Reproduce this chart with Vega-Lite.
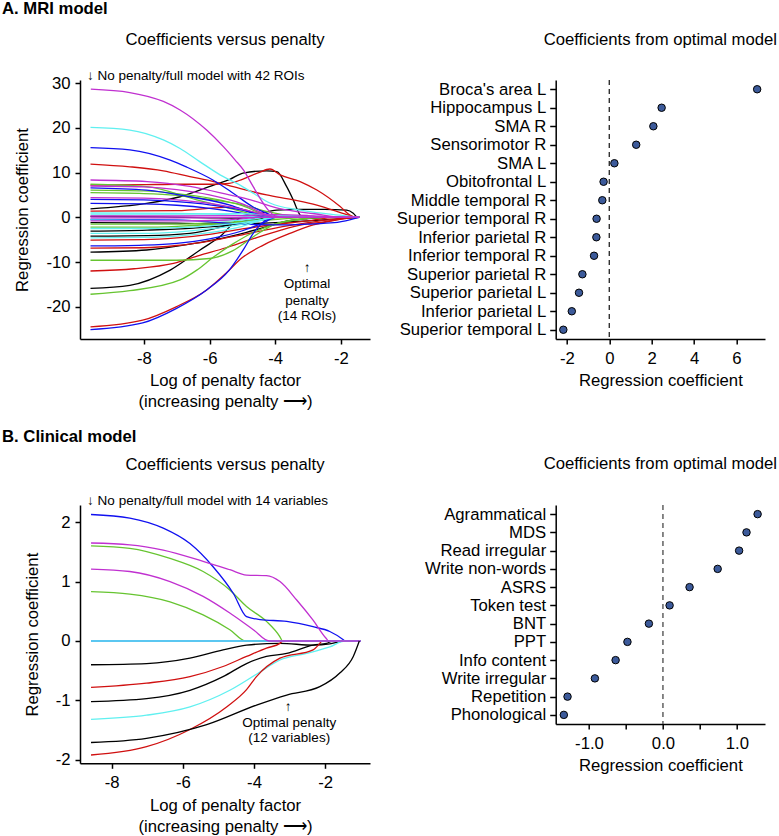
{
  "$schema": "https://vega.github.io/schema/vega-lite/v6.json",
  "autosize": {"type": "none"},
  "padding": {"left": 80, "top": 80, "right": 699, "bottom": 756},
  "background": "white",
  "bounds": "flush",
  "spacing": 425,
  "config": {
    "font": "Liberation Sans",
    "locale": {"number": {"decimal": ".", "thousands": ",", "grouping": [3], "currency": ["$", ""], "minus": "-"}},
    "view": {"stroke": null},
    "axis": {"grid": false, "domainColor": "#000", "domainWidth": 1.5, "tickColor": "#000", "tickWidth": 1.5, "tickSize": 5, "labelFontSize": 16.7, "labelColor": "#000", "titleFontSize": 16.7, "titleFontWeight": "normal", "titleColor": "#000", "labelFont": "Liberation Sans", "titleFont": "Liberation Sans", "labelPadding": 6, "titlePadding": 6, "titleLineHeight": 21},
    "axisY": {"labelPadding": 5, "titlePadding": 14},
    "title": {"fontSize": 16.7, "fontWeight": "normal", "color": "#000", "font": "Liberation Sans"}
  },
  "datasets": {
    "mri": [
      {"id":1,"x":-9.63,"y":1.9},{"id":1,"x":-7.92,"y":3.1},{"id":1,"x":-6.9,"y":4.6},{"id":1,"x":-5.88,"y":7.2},{"id":1,"x":-5.38,"y":8.5},{"id":1,"x":-4.98,"y":9.9},{"id":1,"x":-4.26,"y":10.4},{"id":1,"x":-3.95,"y":10.2},{"id":1,"x":-3.65,"y":6.85},{"id":1,"x":-3.45,"y":3.9},{"id":1,"x":-3.24,"y":0.5},{"id":1,"x":-3.15,"y":0},{"id":1,"x":-1.44,"y":0},
      {"id":7,"x":-9.63,"y":0.2},{"id":7,"x":-7.5,"y":0.1},{"id":7,"x":-6,"y":-0.1},{"id":7,"x":-5.07,"y":-0.2},{"id":7,"x":-4.5,"y":0.8},{"id":7,"x":-3.95,"y":1.6},{"id":7,"x":-3.24,"y":1.8},{"id":7,"x":-2.5,"y":1.8},{"id":7,"x":-1.82,"y":1.6},{"id":7,"x":-1.62,"y":0.9},{"id":7,"x":-1.51,"y":0.1},{"id":7,"x":-1.44,"y":0},
      {"id":13,"x":-9.63,"y":-1.2},{"id":13,"x":-7,"y":-1.3},{"id":13,"x":-5.5,"y":-1.5},{"id":13,"x":-4,"y":-1.2},{"id":13,"x":-3,"y":-0.8},{"id":13,"x":-2,"y":-0.3},{"id":13,"x":-1.44,"y":0},
      {"id":19,"x":-9.63,"y":-3.1},{"id":19,"x":-7.9,"y":-2.85},{"id":19,"x":-6.5,"y":-2.4},{"id":19,"x":-5.4,"y":-1.7},{"id":19,"x":-4.6,"y":-0.6},{"id":19,"x":-4.2,"y":0},{"id":19,"x":-1.44,"y":0},
      {"id":25,"x":-9.63,"y":-4.2},{"id":25,"x":-7.9,"y":-4.1},{"id":25,"x":-6.6,"y":-3.6},{"id":25,"x":-5.4,"y":-1.7},{"id":25,"x":-4.7,"y":-0.4},{"id":25,"x":-4.4,"y":0},{"id":25,"x":-1.44,"y":0},
      {"id":31,"x":-9.63,"y":-7.8},{"id":31,"x":-7.92,"y":-7.3},{"id":31,"x":-6.6,"y":-6.0},{"id":31,"x":-5.4,"y":-4.3},{"id":31,"x":-4.9,"y":-3.4},{"id":31,"x":-4.26,"y":-2.1},{"id":31,"x":-3.75,"y":-1.0},{"id":31,"x":-3.0,"y":-0.3},{"id":31,"x":-2.2,"y":0},{"id":31,"x":-1.44,"y":0},
      {"id":37,"x":-9.63,"y":-15.9},{"id":37,"x":-8.43,"y":-15.2},{"id":37,"x":-7.2,"y":-11.8},{"id":37,"x":-6.29,"y":-7.3},{"id":37,"x":-5.68,"y":-4.3},{"id":37,"x":-5.07,"y":-0.2},{"id":37,"x":-4.9,"y":0},{"id":37,"x":-1.44,"y":0},
      {"id":2,"x":-9.63,"y":11.9},{"id":2,"x":-8.43,"y":11.3},{"id":2,"x":-7.41,"y":10.4},{"id":2,"x":-6.6,"y":9.1},{"id":2,"x":-5.88,"y":8.0},{"id":2,"x":-5.28,"y":6.85},{"id":2,"x":-4.26,"y":5.0},{"id":2,"x":-3.45,"y":3.9},{"id":2,"x":-2.73,"y":2.75},{"id":2,"x":-1.82,"y":0.6},{"id":2,"x":-1.6,"y":0.1},{"id":2,"x":-1.44,"y":0},
      {"id":8,"x":-9.63,"y":7.2},{"id":8,"x":-8,"y":7.3},{"id":8,"x":-7,"y":7.4},{"id":8,"x":-6,"y":7.4},{"id":8,"x":-5.4,"y":7.6},{"id":8,"x":-5.0,"y":8.5},{"id":8,"x":-4.5,"y":10.0},{"id":8,"x":-4.16,"y":10.8},{"id":8,"x":-3.85,"y":9.5},{"id":8,"x":-3.24,"y":8.0},{"id":8,"x":-2.73,"y":6.1},{"id":8,"x":-2.02,"y":2.4},{"id":8,"x":-1.72,"y":0.5},{"id":8,"x":-1.55,"y":0},{"id":8,"x":-1.44,"y":0},
      {"id":14,"x":-9.63,"y":1.4},{"id":14,"x":-7,"y":1.5},{"id":14,"x":-5.38,"y":2.3},{"id":14,"x":-4.6,"y":1.0},{"id":14,"x":-4.0,"y":0},{"id":14,"x":-1.44,"y":0},
      {"id":20,"x":-9.63,"y":-5.1},{"id":20,"x":-8,"y":-5.0},{"id":20,"x":-7,"y":-4.6},{"id":20,"x":-6,"y":-3.8},{"id":20,"x":-5,"y":-2.6},{"id":20,"x":-4,"y":-1.6},{"id":20,"x":-3,"y":-0.8},{"id":20,"x":-2.2,"y":0},{"id":20,"x":-1.44,"y":0},
      {"id":26,"x":-9.63,"y":-6.9},{"id":26,"x":-8,"y":-6.8},{"id":26,"x":-7,"y":-6.3},{"id":26,"x":-6,"y":-5.3},{"id":26,"x":-5,"y":-3.9},{"id":26,"x":-4,"y":-2.4},{"id":26,"x":-3,"y":-1.2},{"id":26,"x":-2.2,"y":-0.4},{"id":26,"x":-1.6,"y":0},{"id":26,"x":-1.44,"y":0},
      {"id":32,"x":-9.63,"y":-12},{"id":32,"x":-8.3,"y":-11.5},{"id":32,"x":-7.1,"y":-10.3},{"id":32,"x":-6.3,"y":-8.5},{"id":32,"x":-5.5,"y":-6.8},{"id":32,"x":-4.8,"y":-5.1},{"id":32,"x":-3.8,"y":-2.8},{"id":32,"x":-3.2,"y":-1.7},{"id":32,"x":-2.5,"y":-1.0},{"id":32,"x":-1.6,"y":0},{"id":32,"x":-1.44,"y":0},
      {"id":38,"x":-9.63,"y":-24.5},{"id":38,"x":-8.04,"y":-23},{"id":38,"x":-7.02,"y":-20},{"id":38,"x":-6.1,"y":-16.3},{"id":38,"x":-5.5,"y":-12.5},{"id":38,"x":-5.0,"y":-9.0},{"id":38,"x":-4.36,"y":-6.2},{"id":38,"x":-3.55,"y":-3.6},{"id":38,"x":-2.84,"y":-1.7},{"id":38,"x":-2.14,"y":-0.6},{"id":38,"x":-1.5,"y":0},{"id":38,"x":-1.44,"y":0},
      {"id":3,"x":-9.63,"y":7.4},{"id":3,"x":-7.92,"y":6.85},{"id":3,"x":-6.39,"y":3.9},{"id":3,"x":-5.38,"y":2.0},{"id":3,"x":-4.6,"y":0.5},{"id":3,"x":-4.3,"y":0},{"id":3,"x":-1.44,"y":0},
      {"id":9,"x":-9.63,"y":6.1},{"id":9,"x":-8,"y":5.9},{"id":9,"x":-7,"y":5.3},{"id":9,"x":-6,"y":4.3},{"id":9,"x":-5,"y":2.6},{"id":9,"x":-4.4,"y":0.8},{"id":9,"x":-4.0,"y":0},{"id":9,"x":-1.44,"y":0},
      {"id":15,"x":-9.63,"y":5.5},{"id":15,"x":-8,"y":5.3},{"id":15,"x":-7,"y":4.9},{"id":15,"x":-6,"y":4.0},{"id":15,"x":-5,"y":2.8},{"id":15,"x":-4.2,"y":1.2},{"id":15,"x":-3.5,"y":0.3},{"id":15,"x":-3.0,"y":0},{"id":15,"x":-1.44,"y":0},
      {"id":21,"x":-9.63,"y":-1.5},{"id":21,"x":-7,"y":-1.5},{"id":21,"x":-6.29,"y":-1.35},{"id":21,"x":-5.28,"y":-1.0},{"id":21,"x":-4.26,"y":-0.6},{"id":21,"x":-3.45,"y":-0.2},{"id":21,"x":-2.5,"y":0},{"id":21,"x":-1.44,"y":0},
      {"id":27,"x":-9.63,"y":-2.2},{"id":27,"x":-8,"y":-2.2},{"id":27,"x":-7,"y":-2.0},{"id":27,"x":-6,"y":-1.6},{"id":27,"x":-5,"y":-1.0},{"id":27,"x":-4.3,"y":-0.4},{"id":27,"x":-3.9,"y":0},{"id":27,"x":-1.44,"y":0},
      {"id":33,"x":-9.63,"y":-9.6},{"id":33,"x":-7,"y":-9.6},{"id":33,"x":-6,"y":-9.2},{"id":33,"x":-5.3,"y":-7.5},{"id":33,"x":-4.6,"y":-4.0},{"id":33,"x":-4.0,"y":-1.5},{"id":33,"x":-3.3,"y":-0.5},{"id":33,"x":-2.5,"y":0},{"id":33,"x":-1.44,"y":0},
      {"id":39,"x":-9.63,"y":-17.2},{"id":39,"x":-8.43,"y":-16.4},{"id":39,"x":-6.9,"y":-14.0},{"id":39,"x":-6.39,"y":-11.8},{"id":39,"x":-5.9,"y":-9.0},{"id":39,"x":-5.3,"y":-6.0},{"id":39,"x":-4.7,"y":-3.5},{"id":39,"x":-4.0,"y":-1.5},{"id":39,"x":-3.3,"y":-0.5},{"id":39,"x":-2.5,"y":0},{"id":39,"x":-1.44,"y":0},
      {"id":4,"x":-9.63,"y":15.6},{"id":4,"x":-8.43,"y":15.1},{"id":4,"x":-7.2,"y":12.8},{"id":4,"x":-6.69,"y":11.2},{"id":4,"x":-5.9,"y":8.35},{"id":4,"x":-5.28,"y":5.4},{"id":4,"x":-4.67,"y":2.3},{"id":4,"x":-4.25,"y":0.9},{"id":4,"x":-3.9,"y":0},{"id":4,"x":-1.44,"y":0},
      {"id":10,"x":-9.63,"y":6.6},{"id":10,"x":-7.92,"y":6.1},{"id":10,"x":-6.6,"y":4.6},{"id":10,"x":-5.38,"y":2.75},{"id":10,"x":-4.7,"y":1.0},{"id":10,"x":-4.3,"y":0},{"id":10,"x":-1.44,"y":0},
      {"id":16,"x":-9.63,"y":4.0},{"id":16,"x":-8,"y":3.9},{"id":16,"x":-7,"y":3.5},{"id":16,"x":-6,"y":2.8},{"id":16,"x":-5,"y":1.6},{"id":16,"x":-4.4,"y":0.5},{"id":16,"x":-4.0,"y":0},{"id":16,"x":-1.44,"y":0},
      {"id":22,"x":-9.63,"y":3.1},{"id":22,"x":-8,"y":3.0},{"id":22,"x":-7,"y":2.7},{"id":22,"x":-6,"y":2.0},{"id":22,"x":-5,"y":0.9},{"id":22,"x":-4.5,"y":0.1},{"id":22,"x":-4.3,"y":0},{"id":22,"x":-1.44,"y":0},
      {"id":28,"x":-9.63,"y":-0.45},{"id":28,"x":-7,"y":-0.6},{"id":28,"x":-5.0,"y":-1.5},{"id":28,"x":-4.0,"y":-1.7},{"id":28,"x":-3.0,"y":-1.5},{"id":28,"x":-2.2,"y":-1.2},{"id":28,"x":-1.7,"y":-0.5},{"id":28,"x":-1.44,"y":0},
      {"id":34,"x":-9.63,"y":-6.4},{"id":34,"x":-8,"y":-6.2},{"id":34,"x":-7,"y":-5.8},{"id":34,"x":-6,"y":-4.8},{"id":34,"x":-5,"y":-3.0},{"id":34,"x":-4.3,"y":-1.0},{"id":34,"x":-4.0,"y":0},{"id":34,"x":-1.44,"y":0},
      {"id":40,"x":-9.63,"y":-25.1},{"id":40,"x":-8.04,"y":-23.6},{"id":40,"x":-7.02,"y":-20.4},{"id":40,"x":-6.1,"y":-16.3},{"id":40,"x":-5.4,"y":-11.8},{"id":40,"x":-4.95,"y":-7},{"id":40,"x":-4.67,"y":-3.6},{"id":40,"x":-4.2,"y":-0.3},{"id":40,"x":-4.0,"y":0},{"id":40,"x":-1.44,"y":0},
      {"id":5,"x":-9.63,"y":20.1},{"id":5,"x":-8.43,"y":19.5},{"id":5,"x":-7.41,"y":17.3},{"id":5,"x":-6.9,"y":15.4},{"id":5,"x":-6.29,"y":12.4},{"id":5,"x":-5.68,"y":9.5},{"id":5,"x":-5.07,"y":7.2},{"id":5,"x":-4.67,"y":5.4},{"id":5,"x":-4.16,"y":3.2},{"id":5,"x":-3.24,"y":1.6},{"id":5,"x":-2.33,"y":0.7},{"id":5,"x":-1.44,"y":0},
      {"id":11,"x":-9.63,"y":1.0},{"id":11,"x":-7,"y":0.9},{"id":11,"x":-5.5,"y":0.6},{"id":11,"x":-4.6,"y":0.1},{"id":11,"x":-4.3,"y":0},{"id":11,"x":-1.44,"y":0},
      {"id":17,"x":-9.63,"y":0.7},{"id":17,"x":-7,"y":0.7},{"id":17,"x":-5,"y":0.8},{"id":17,"x":-4,"y":0.5},{"id":17,"x":-3,"y":0.3},{"id":17,"x":-2.3,"y":0.1},{"id":17,"x":-1.44,"y":0},
      {"id":23,"x":-9.63,"y":-0.6},{"id":23,"x":-7,"y":-0.7},{"id":23,"x":-5.5,"y":-0.8},{"id":23,"x":-4.7,"y":-0.4},{"id":23,"x":-4.3,"y":0},{"id":23,"x":-1.44,"y":0},
      {"id":29,"x":-9.63,"y":-2.5},{"id":29,"x":-8,"y":-2.5},{"id":29,"x":-7,"y":-2.3},{"id":29,"x":-6,"y":-1.9},{"id":29,"x":-5,"y":-1.2},{"id":29,"x":-4.3,"y":-0.4},{"id":29,"x":-4.0,"y":0},{"id":29,"x":-1.44,"y":0},
      {"id":35,"x":-9.63,"y":-3.6},{"id":35,"x":-8,"y":-3.6},{"id":35,"x":-7,"y":-3.3},{"id":35,"x":-6,"y":-2.6},{"id":35,"x":-5,"y":-1.5},{"id":35,"x":-4.4,"y":-0.5},{"id":35,"x":-4.1,"y":0},{"id":35,"x":-1.44,"y":0},
      {"id":41,"x":-9.63,"y":-4.6},{"id":41,"x":-8,"y":-4.5},{"id":41,"x":-7,"y":-4.2},{"id":41,"x":-6,"y":-3.4},{"id":41,"x":-5,"y":-2.0},{"id":41,"x":-4.4,"y":-0.6},{"id":41,"x":-4.1,"y":0},{"id":41,"x":-1.44,"y":0},
      {"id":6,"x":-9.62,"y":28.65},{"id":6,"x":-8.43,"y":27.9},{"id":6,"x":-7.41,"y":25.9},{"id":6,"x":-6.9,"y":24.0},{"id":6,"x":-6.09,"y":19.5},{"id":6,"x":-5.58,"y":15.8},{"id":6,"x":-5.22,"y":12.8},{"id":6,"x":-4.97,"y":10.6},{"id":6,"x":-4.67,"y":6.85},{"id":6,"x":-4.36,"y":3.1},{"id":6,"x":-4.16,"y":1.2},{"id":6,"x":-4.0,"y":0.3},{"id":6,"x":-3.7,"y":0},{"id":6,"x":-1.44,"y":0},
      {"id":12,"x":-9.63,"y":8.35},{"id":12,"x":-7.9,"y":8.0},{"id":12,"x":-6.6,"y":6.9},{"id":12,"x":-5.4,"y":5.0},{"id":12,"x":-4.75,"y":3.9},{"id":12,"x":-3.9,"y":2.0},{"id":12,"x":-2.8,"y":0.8},{"id":12,"x":-1.9,"y":0},{"id":12,"x":-1.44,"y":0},
      {"id":18,"x":-9.63,"y":7.0},{"id":18,"x":-8,"y":6.8},{"id":18,"x":-7,"y":6.2},{"id":18,"x":-6,"y":5.0},{"id":18,"x":-5,"y":3.0},{"id":18,"x":-4.4,"y":1.0},{"id":18,"x":-4.0,"y":0},{"id":18,"x":-1.44,"y":0},
      {"id":24,"x":-9.63,"y":4.4},{"id":24,"x":-8,"y":4.3},{"id":24,"x":-7,"y":3.9},{"id":24,"x":-6,"y":3.1},{"id":24,"x":-5,"y":1.8},{"id":24,"x":-4.3,"y":0.6},{"id":24,"x":-3.9,"y":0},{"id":24,"x":-1.44,"y":0},
      {"id":30,"x":-9.63,"y":0.3},{"id":30,"x":-7,"y":0.3},{"id":30,"x":-5,"y":0.4},{"id":30,"x":-4,"y":0.6},{"id":30,"x":-3,"y":0.4},{"id":30,"x":-2.2,"y":0.1},{"id":30,"x":-1.44,"y":0},
      {"id":36,"x":-9.63,"y":-0.1},{"id":36,"x":-7,"y":-0.1},{"id":36,"x":-5,"y":0},{"id":36,"x":-4,"y":0},{"id":36,"x":-1.44,"y":0},
      {"id":42,"x":-9.63,"y":-0.8},{"id":42,"x":-7,"y":-0.8},{"id":42,"x":-5.5,"y":-0.6},{"id":42,"x":-4.8,"y":-0.2},{"id":42,"x":-4.5,"y":0},{"id":42,"x":-1.44,"y":0}
    ],
    "clin": [
      {"id":1,"x":-8.58,"y":-0.40},{"id":1,"x":-7.02,"y":-0.38},{"id":1,"x":-5.80,"y":-0.29},{"id":1,"x":-4.87,"y":-0.15},{"id":1,"x":-4.21,"y":-0.07},{"id":1,"x":-3.27,"y":-0.04},{"id":1,"x":-2.34,"y":-0.07},{"id":1,"x":-1.87,"y":-0.05},{"id":1,"x":-1.59,"y":-0.01},{"id":1,"x":-1.5,"y":0},{"id":1,"x":-1.0,"y":0},
      {"id":2,"x":-8.58,"y":-0.78},{"id":2,"x":-7.02,"y":-0.71},{"id":2,"x":-5.80,"y":-0.60},{"id":2,"x":-4.87,"y":-0.43},{"id":2,"x":-4.21,"y":-0.26},{"id":2,"x":-3.65,"y":-0.12},{"id":2,"x":-3.27,"y":-0.04},{"id":2,"x":-3.19,"y":0},{"id":2,"x":-1.0,"y":0},
      {"id":3,"x":-8.58,"y":1.60},{"id":3,"x":-7.49,"y":1.56},{"id":3,"x":-6.36,"y":1.39},{"id":3,"x":-5.43,"y":1.17},{"id":3,"x":-4.68,"y":0.86},{"id":3,"x":-4.21,"y":0.58},{"id":3,"x":-3.65,"y":0.33},{"id":3,"x":-3.27,"y":0.07},{"id":3,"x":-3.2,"y":0},{"id":3,"x":-1.0,"y":0},
      {"id":4,"x":-8.58,"y":2.13},{"id":4,"x":-7.49,"y":2.07},{"id":4,"x":-6.55,"y":1.90},{"id":4,"x":-5.80,"y":1.64},{"id":4,"x":-5.15,"y":1.25},{"id":4,"x":-4.58,"y":0.80},{"id":4,"x":-4.21,"y":0.41},{"id":4,"x":-3.83,"y":0.36},{"id":4,"x":-3.08,"y":0.33},{"id":4,"x":-2.34,"y":0.24},{"id":4,"x":-1.87,"y":0.16},{"id":4,"x":-1.49,"y":0.02},{"id":4,"x":-1.45,"y":0},{"id":4,"x":-1.0,"y":0},
      {"id":5,"x":-8.58,"y":-1.32},{"id":5,"x":-7.02,"y":-1.25},{"id":5,"x":-5.80,"y":-1.11},{"id":5,"x":-4.68,"y":-0.83},{"id":5,"x":-3.93,"y":-0.56},{"id":5,"x":-3.27,"y":-0.32},{"id":5,"x":-2.52,"y":-0.21},{"id":5,"x":-1.87,"y":-0.10},{"id":5,"x":-1.45,"y":0},{"id":5,"x":-1.0,"y":0},
      {"id":6,"x":-8.58,"y":1.65},{"id":6,"x":-7.49,"y":1.62},{"id":6,"x":-6.55,"y":1.53},{"id":6,"x":-5.43,"y":1.34},{"id":6,"x":-4.68,"y":1.20},{"id":6,"x":-4.21,"y":1.11},{"id":6,"x":-3.65,"y":1.10},{"id":6,"x":-3.27,"y":1.0},{"id":6,"x":-2.80,"y":0.69},{"id":6,"x":-2.34,"y":0.35},{"id":6,"x":-1.98,"y":0.05},{"id":6,"x":-1.9,"y":0},{"id":6,"x":-1.0,"y":0},
      {"id":7,"x":-8.58,"y":-1.02},{"id":7,"x":-7.02,"y":-0.97},{"id":7,"x":-5.80,"y":-0.83},{"id":7,"x":-4.87,"y":-0.60},{"id":7,"x":-4.21,"y":-0.38},{"id":7,"x":-3.65,"y":-0.26},{"id":7,"x":-3.08,"y":-0.21},{"id":7,"x":-2.34,"y":-0.07},{"id":7,"x":-1.96,"y":-0.04},{"id":7,"x":-1.78,"y":0},{"id":7,"x":-1.0,"y":0},
      {"id":8,"x":-8.58,"y":-1.92},{"id":8,"x":-7.02,"y":-1.78},{"id":8,"x":-5.80,"y":-1.49},{"id":8,"x":-4.77,"y":-1.11},{"id":8,"x":-4.21,"y":-0.82},{"id":8,"x":-3.93,"y":-0.60},{"id":8,"x":-3.27,"y":-0.29},{"id":8,"x":-2.34,"y":-0.15},{"id":8,"x":-2.15,"y":-0.04},{"id":8,"x":-2.09,"y":0},{"id":8,"x":-1.0,"y":0},
      {"id":9,"x":-8.58,"y":0.83},{"id":9,"x":-7.49,"y":0.79},{"id":9,"x":-6.36,"y":0.66},{"id":9,"x":-5.43,"y":0.44},{"id":9,"x":-4.68,"y":0.19},{"id":9,"x":-4.23,"y":0},{"id":9,"x":-1.0,"y":0},
      {"id":10,"x":-8.58,"y":0},{"id":10,"x":-1.0,"y":0},
      {"id":11,"x":-8.58,"y":0},{"id":11,"x":-1.0,"y":0},
      {"id":12,"x":-8.58,"y":1.21},{"id":12,"x":-7.49,"y":1.17},{"id":12,"x":-6.36,"y":1.0},{"id":12,"x":-5.43,"y":0.75},{"id":12,"x":-4.68,"y":0.47},{"id":12,"x":-4.02,"y":0.19},{"id":12,"x":-3.57,"y":0},{"id":12,"x":-1.0,"y":0},
      {"id":13,"x":-8.58,"y":-1.71},{"id":13,"x":-7.02,"y":-1.64},{"id":13,"x":-5.33,"y":-1.41},{"id":13,"x":-3.93,"y":-1.08},{"id":13,"x":-3.08,"y":-0.91},{"id":13,"x":-2.15,"y":-0.77},{"id":13,"x":-1.59,"y":-0.54},{"id":13,"x":-1.21,"y":-0.26},{"id":13,"x":-1.04,"y":0}
    ],
    "mriOpt": [
      {"name":"Broca's area L","coef":6.98},{"name":"Hippocampus L","coef":2.47},{"name":"SMA R","coef":2.08},{"name":"Sensorimotor R","coef":1.27},{"name":"SMA L","coef":0.24},{"name":"Obitofrontal L","coef":-0.27},{"name":"Middle temporal R","coef":-0.33},{"name":"Superior temporal R","coef":-0.60},{"name":"Inferior parietal R","coef":-0.61},{"name":"Inferior temporal R","coef":-0.72},{"name":"Superior parietal R","coef":-1.27},{"name":"Superior parietal L","coef":-1.43},{"name":"Inferior parietal L","coef":-1.77},{"name":"Superior temporal L","coef":-2.17}
    ],
    "clinOpt": [
      {"name":"Agrammatical","coef":1.28},{"name":"MDS","coef":1.13},{"name":"Read irregular","coef":1.03},{"name":"Write non-words","coef":0.74},{"name":"ASRS","coef":0.36},{"name":"Token test","coef":0.09},{"name":"BNT","coef":-0.19},{"name":"PPT","coef":-0.48},{"name":"Info content","coef":-0.64},{"name":"Write irregular","coef":-0.92},{"name":"Repetition","coef":-1.29},{"name":"Phonological","coef":-1.34}
    ]
  },
  "vconcat": [
    {
      "title": {"text": "A. MRI model", "anchor": "start", "frame": "group", "fontWeight": "bold", "dx": -78, "offset": 14},
      "bounds": "flush",
      "spacing": 185.7,
      "hconcat": [
        {
          "width": 290, "height": 259,
          "title": {"text": "Coefficients versus penalty", "offset": 20},
          "layer": [
            {
              "data": {"name": "mri"},
              "mark": {"type": "line", "strokeWidth": 1.3, "interpolate": "monotone"},
              "encoding": {
                "x": {"field": "x", "type": "quantitative", "scale": {"domain": [-9.95, -1.11], "nice": false, "zero": false}, "axis": {"values": [-8, -6, -4, -2], "format": "d", "title": ["Log of penalty factor", "(increasing penalty ⟶)"]}},
                "y": {"field": "y", "type": "quantitative", "scale": {"domain": [-27.2, 30.7], "nice": false, "zero": false}, "axis": {"values": [-20, -10, 0, 10, 20, 30], "format": "d", "title": "Regression coefficient"}},
                "color": {"field": "id", "type": "ordinal", "scale": {"range": ["#000000", "#D01010", "#66C430", "#1010F0", "#60F0F0", "#C030D0"]}, "legend": null}
              }
            },
            {
              "data": {"values": [{"x": -9.74, "y": 31.6, "t": "↓ No penalty/full model with 42 ROIs"}]},
              "mark": {"type": "text", "fontSize": 13.5, "align": "left", "baseline": "middle", "font": "Liberation Sans"},
              "encoding": {"x": {"field": "x", "type": "quantitative"}, "y": {"field": "y", "type": "quantitative"}, "text": {"field": "t"}}
            },
            {
              "data": {"values": [{"x": -3.03, "y": -11.3, "t": "↑"}, {"x": -3.03, "y": -14.9, "t": "Optimal"}, {"x": -3.03, "y": -18.7, "t": "penalty"}, {"x": -3.03, "y": -22.1, "t": "(14 ROIs)"}]},
              "mark": {"type": "text", "fontSize": 13.5, "align": "center", "baseline": "middle", "font": "Liberation Sans"},
              "encoding": {"x": {"field": "x", "type": "quantitative"}, "y": {"field": "y", "type": "quantitative"}, "text": {"field": "t"}}
            }
          ]
        },
        {
          "width": 209.3, "height": 259,
          "title": {"text": "Coefficients from optimal model", "offset": 31},
          "layer": [
            {
              "data": {"values": [{"coef": 0}]},
              "mark": {"type": "rule", "strokeDash": [5, 4], "color": "#333", "strokeWidth": 1.4},
              "encoding": {"x": {"field": "coef", "type": "quantitative"}}
            },
            {
              "data": {"name": "mriOpt"},
              "mark": {"type": "circle", "size": 56, "fill": "#3C5A9A", "stroke": "#000", "strokeWidth": 1, "opacity": 1},
              "encoding": {
                "x": {"field": "coef", "type": "quantitative", "scale": {"domain": [-2.53, 7.35], "nice": false, "zero": false}, "axis": {"values": [-2, 0, 2, 4, 6], "format": "d", "title": "Regression coefficient"}},
                "y": {"field": "name", "type": "nominal", "sort": null, "axis": {"title": null, "tickSize": 6, "labelPadding": 4}}
              }
            }
          ]
        }
      ]
    },
    {
      "title": {"text": "B. Clinical model", "anchor": "start", "frame": "group", "fontWeight": "bold", "dx": -78, "offset": 10},
      "bounds": "flush",
      "spacing": 185.7,
      "hconcat": [
        {
          "width": 290, "height": 258.3,
          "title": {"text": "Coefficients versus penalty", "offset": 20},
          "layer": [
            {
              "data": {"name": "clin"},
              "mark": {"type": "line", "strokeWidth": 1.3, "interpolate": "monotone"},
              "encoding": {
                "x": {"field": "x", "type": "quantitative", "scale": {"domain": [-8.89, -0.74], "nice": false, "zero": false}, "axis": {"values": [-8, -6, -4, -2], "format": "d", "title": ["Log of penalty factor", "(increasing penalty ⟶)"]}},
                "y": {"field": "y", "type": "quantitative", "scale": {"domain": [-2.06, 2.29], "nice": false, "zero": false}, "axis": {"values": [-2, -1, 0, 1, 2], "format": "d", "title": "Regression coefficient"}},
                "color": {"field": "id", "type": "ordinal", "scale": {"range": ["#000000", "#D01010", "#66C430", "#1010F0", "#60F0F0", "#C030D0"]}, "legend": null}
              }
            },
            {
              "data": {"values": [{"x": -8.69, "y": 2.36, "t": "↓ No penalty/full model with 14 variables"}]},
              "mark": {"type": "text", "fontSize": 13.5, "align": "left", "baseline": "middle", "font": "Liberation Sans"},
              "encoding": {"x": {"field": "x", "type": "quantitative"}, "y": {"field": "y", "type": "quantitative"}, "text": {"field": "t"}}
            },
            {
              "data": {"values": [{"x": -3.04, "y": -1.11, "t": "↑"}, {"x": -3.01, "y": -1.38, "t": "Optimal penalty"}, {"x": -3.01, "y": -1.64, "t": "(12 variables)"}]},
              "mark": {"type": "text", "fontSize": 13.5, "align": "center", "baseline": "middle", "font": "Liberation Sans"},
              "encoding": {"x": {"field": "x", "type": "quantitative"}, "y": {"field": "y", "type": "quantitative"}, "text": {"field": "t"}}
            }
          ]
        },
        {
          "width": 209.3, "height": 219,
          "title": {"text": "Coefficients from optimal model", "offset": 32},
          "layer": [
            {
              "data": {"values": [{"coef": 0}]},
              "mark": {"type": "rule", "strokeDash": [5, 4], "color": "#555", "strokeWidth": 1.4},
              "encoding": {"x": {"field": "coef", "type": "quantitative"}}
            },
            {
              "data": {"name": "clinOpt"},
              "mark": {"type": "circle", "size": 56, "fill": "#3C5A9A", "stroke": "#000", "strokeWidth": 1, "opacity": 1},
              "encoding": {
                "x": {"field": "coef", "type": "quantitative", "scale": {"domain": [-1.45, 1.38], "nice": false, "zero": false}, "axis": {"values": [-1, -0.5, 0, 0.5, 1], "labelExpr": "abs(datum.value) == 0.5 ? '' : format(datum.value, '.1f')", "title": "Regression coefficient"}},
                "y": {"field": "name", "type": "nominal", "sort": null, "axis": {"title": null, "tickSize": 6, "labelPadding": 4}}
              }
            }
          ]
        }
      ]
    }
  ]
}
